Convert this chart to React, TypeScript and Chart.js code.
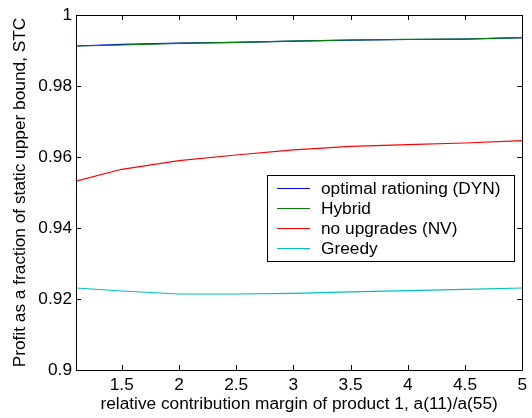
import React, { useEffect, useRef } from "react";
import { Chart, registerables } from "chart.js";

Chart.register(...registerables);

// Contribution-margin ratio a(11)/a(55)
const ratios = [1.1, 1.5, 2, 2.5, 3, 3.5, 4, 4.5, 5];

// Profit as a fraction of the static upper bound (STC)
const dynValues = [0.99127, 0.9917, 0.9921, 0.9923, 0.99262, 0.99292, 0.9931, 0.99318, 0.99361];
const hybridValues = [0.99127, 0.99155, 0.99202, 0.9923, 0.99262, 0.99296, 0.99315, 0.99324, 0.99361];
const nvValues = [0.9532, 0.95654, 0.95896, 0.96056, 0.96203, 0.96301, 0.96346, 0.96394, 0.96459];
const greedyValues = [0.9231, 0.92225, 0.92141, 0.92141, 0.9216, 0.922, 0.92234, 0.92273, 0.9231];

const xTicks = [1.5, 2, 2.5, 3, 3.5, 4, 4.5, 5];
const yTicks = [0.9, 0.92, 0.94, 0.96, 0.98, 1];

const seriesNames = ["optimal rationing (DYN)", "Hybrid", "no upgrades (NV)", "Greedy"];
const seriesColors = ["#0000ff", "#008000", "#ff0000", "#00bfbf"];

const FONT = "'Liberation Sans', Arial, Helvetica, sans-serif";
const FONT_SIZE = 17.3;

const toPoints = (ys: number[]) => ratios.map((x, i) => ({ x, y: ys[i] }));

// Box around the axes with inward-pointing tick marks on all four sides
const framePlugin = {
  id: "frame",
  afterDatasetsDraw(chart: any) {
    const { ctx, chartArea } = chart;
    const { left, right, top, bottom } = chartArea;
    const xs = chart.scales.x;
    const ys = chart.scales.y;
    const len = 5;
    ctx.save();
    ctx.strokeStyle = "#000";
    ctx.lineWidth = 1;
    ctx.beginPath();
    ctx.rect(Math.round(left) + 0.5, Math.round(top) + 0.5, Math.round(right - left), Math.round(bottom - top));
    for (const v of xTicks) {
      const px = Math.round(xs.getPixelForValue(v)) + 0.5;
      ctx.moveTo(px, bottom);
      ctx.lineTo(px, bottom - len);
      ctx.moveTo(px, top);
      ctx.lineTo(px, top + len);
    }
    for (const v of yTicks) {
      const py = Math.round(ys.getPixelForValue(v)) + 0.5;
      ctx.moveTo(left, py);
      ctx.lineTo(left + len, py);
      ctx.moveTo(right, py);
      ctx.lineTo(right - len, py);
    }
    ctx.stroke();
    ctx.restore();
  },
};

// Boxed legend inside the plot area
const legendPlugin = {
  id: "boxLegend",
  afterDraw(chart: any) {
    const { ctx } = chart;
    const boxLeft = 267.5;
    const boxTop = 175.5;
    const boxW = 247;
    const boxH = 86;
    ctx.save();
    ctx.fillStyle = "#fff";
    ctx.fillRect(boxLeft, boxTop, boxW, boxH);
    ctx.strokeStyle = "#000";
    ctx.lineWidth = 1;
    ctx.strokeRect(boxLeft, boxTop, boxW, boxH);
    ctx.font = `${FONT_SIZE}px ${FONT}`;
    ctx.textBaseline = "middle";
    ctx.textAlign = "left";
    seriesNames.forEach((name, i) => {
      const y = 188 + i * 20;
      ctx.strokeStyle = seriesColors[i];
      ctx.beginPath();
      ctx.moveTo(277, y + 0.5);
      ctx.lineTo(310, y + 0.5);
      ctx.stroke();
      ctx.fillStyle = "#000";
      ctx.fillText(name, 321, y + 1);
    });
    ctx.restore();
  },
};

export default function App() {
  const canvasRef = useRef<HTMLCanvasElement | null>(null);

  useEffect(() => {
    if (!canvasRef.current) return;
    const valueSets = [dynValues, hybridValues, nvValues, greedyValues];
    const chart = new Chart(canvasRef.current, {
      type: "line",
      data: {
        datasets: valueSets.map((vals, i) => ({
          label: seriesNames[i],
          data: toPoints(vals),
          borderColor: seriesColors[i],
          backgroundColor: seriesColors[i],
          borderWidth: 1.2,
          pointRadius: 0,
          tension: 0,
          fill: false,
          order: 4 - i,
        })),
      },
      options: {
        responsive: false,
        animation: false,
        layout: { padding: { top: 15, right: 5, left: 0, bottom: 0 } },
        plugins: {
          legend: { display: false },
          tooltip: { enabled: false },
        },
        scales: {
          x: {
            type: "linear",
            min: 1.1,
            max: 5,
            grid: { display: false, drawTicks: false },
            border: { display: false },
            afterBuildTicks: (axis: any) => {
              axis.ticks = xTicks.map((v) => ({ value: v }));
            },
            afterFit: (axis: any) => {
              axis.height = 48;
            },
            ticks: {
              color: "#000",
              font: { family: FONT, size: FONT_SIZE },
              padding: 5,
              maxRotation: 0,
              autoSkip: false,
              callback: (v: any) => String(v),
            },
            title: {
              display: true,
              text: "relative contribution margin of product 1, a(11)/a(55)",
              color: "#000",
              font: { family: FONT, size: FONT_SIZE },
              padding: { top: 0, bottom: 3 },
            },
          },
          y: {
            type: "linear",
            min: 0.9,
            max: 1,
            grid: { display: false, drawTicks: false },
            border: { display: false },
            afterBuildTicks: (axis: any) => {
              axis.ticks = yTicks.map((v) => ({ value: v }));
            },
            afterFit: (axis: any) => {
              axis.width = 76;
            },
            ticks: {
              color: "#000",
              font: { family: FONT, size: FONT_SIZE },
              padding: 4,
              autoSkip: false,
              callback: (v: any) => String(Number(Number(v).toFixed(2))),
            },
            title: {
              display: true,
              text: "Profit as a fraction of static upper bound, STC",
              color: "#000",
              font: { family: FONT, size: FONT_SIZE },
              padding: { top: 10, bottom: 0 },
            },
          },
        },
      },
      plugins: [framePlugin, legendPlugin],
    });
    return () => chart.destroy();
  }, []);

  return (
    <div style={{ position: "absolute", left: 0, top: 0, width: 532, height: 418, background: "#fff" }}>
      <canvas ref={canvasRef} width={532} height={418} />
    </div>
  );
}
